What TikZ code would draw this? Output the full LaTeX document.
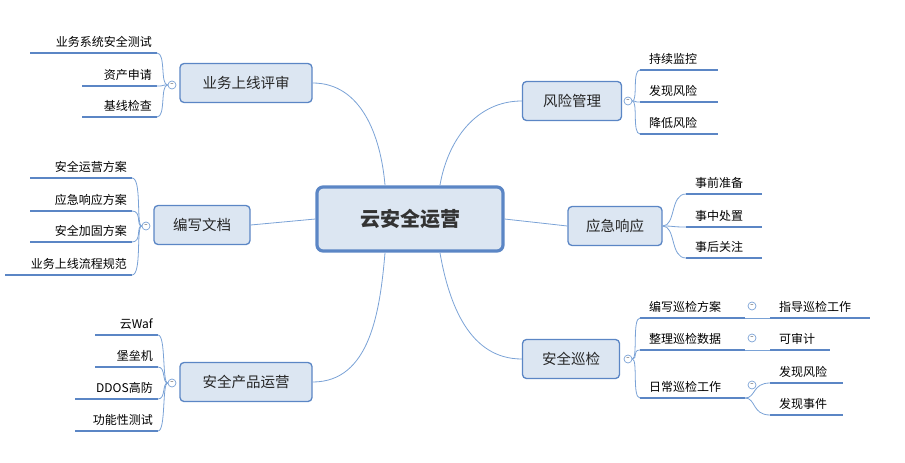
\documentclass[tikz,border=0pt]{standalone}
\usepackage{fontspec}
\setmainfont{Noto Sans CJK SC}
\definecolor{bl}{HTML}{5B86C5}
\definecolor{cn}{HTML}{7AA2D6}
\definecolor{fl}{HTML}{DCE6F2}
\tikzset{
 mainbox/.style={draw=bl,line width=3.2pt,fill=fl,rounded corners=6pt,minimum width=186pt,minimum height=64pt,font=\fontsize{20}{22}\selectfont\bfseries,text=black!80},
 branch/.style={draw=bl,line width=1.3pt,fill=fl,rounded corners=4pt,minimum height=39pt,inner xsep=6pt,font=\fontsize{14.5}{16}\selectfont,text=black!85},
 uline/.style={draw=bl,line width=2.4pt},
 conn/.style={draw=cn,line width=0.8pt},
 circ/.style={circle,draw=cn,line width=0.7pt,fill=white,inner sep=0pt,minimum size=8pt,font=\fontsize{6}{6}\selectfont},
 lt/.style={font=\fontsize{12}{14}\selectfont,inner sep=1pt}
}
\newcommand\leafL[5]{\coordinate (#1a) at (#2,#4);\coordinate (#1) at (#3,#4);
 \draw[uline] (#1a) -- (#1);
 \node[lt,anchor=south east] (#1t) at (#3-4,#4-4) {#5};}
\newcommand\leafR[5]{\coordinate (#1) at (#2,#4);\coordinate (#1b) at (#3,#4);
 \draw[uline] (#1) -- (#1b);
 \node[lt,anchor=south west] (#1t) at (#2+8,#4-4) {#5};}
\begin{document}
\begin{tikzpicture}[x=1pt,y=-1pt]
\useasboundingbox (0,0) rectangle (905,463);
\node[mainbox] (m) at (410,219) {云安全运营};
\node[branch,minimum width=132pt] (b1) at (246,83) {业务上线评审};
\node[branch,minimum width=96pt] (b2) at (202,225) {编写文档};
\node[branch,minimum width=132pt] (b3) at (246,382) {安全产品运营};
\node[branch,minimum width=99pt] (b4) at (572,101) {风险管理};
\node[branch,minimum width=94pt] (b5) at (615,226) {应急响应};
\node[branch,minimum width=97pt] (b6) at (571,359) {安全巡检};
\draw[conn] (385,185) to[out=95,in=0] (b1.east);
\draw[conn] (m.west) -- (b2.east);
\draw[conn] (385,253) to[out=-95,in=0] (b3.east);
\draw[conn] (440,185) to[out=80,in=180] (b4.west);
\draw[conn] (m.east) -- (b5.west);
\draw[conn] (440,253) to[out=-80,in=180] (b6.west);
\leafL{l11}{30}{157}{53}{业务系统安全测试}
\leafL{l12}{82}{157}{86}{资产申请}
\leafL{l13}{82}{157}{117}{基线检查}
\leafL{l21}{30}{132}{178}{安全运营方案}
\leafL{l22}{30}{132}{211}{应急响应方案}
\leafL{l23}{30}{132}{242}{安全加固方案}
\leafL{l24}{5}{132}{275}{业务上线流程规范}
\leafL{l31}{95}{158}{335}{云Waf}
\leafL{l32}{95}{158}{367}{堡垒机}
\leafL{l33}{75}{158}{399}{DDOS高防}
\leafL{l34}{75}{158}{431}{功能性测试}
\leafR{l41}{640}{718}{70}{持续监控}
\leafR{l42}{640}{718}{102}{发现风险}
\leafR{l43}{640}{718}{134}{降低风险}
\leafR{l51}{686}{762}{194}{事前准备}
\leafR{l52}{686}{762}{227}{事中处置}
\leafR{l53}{686}{762}{258}{事后关注}
\leafR{l61}{640}{745}{318}{编写巡检方案}
\leafR{l62}{640}{745}{350}{整理巡检数据}
\leafR{l63}{640}{745}{398}{日常巡检工作}
\leafR{l71}{770}{870}{318}{指导巡检工作}
\leafR{l72}{770}{830}{350}{可审计}
\leafR{l73}{770}{843}{383}{发现风险}
\leafR{l74}{770}{843}{415}{发现事件}
\draw[conn] (l61b) -- (l71);
\draw[conn] (l62b) -- (l72);
\draw[conn] (l63b) .. controls (756,398) and (752,383) .. (l73);
\draw[conn] (l63b) .. controls (756,398) and (752,415) .. (l74);
\node[circ] (c1) at (172,85) {--};
\node[circ] (c2) at (146,226) {--};
\node[circ] (c3) at (172,383) {--};
\node[circ] (c4) at (628,101) {--};
\node[circ] (c6) at (628,359) {--};
\foreach \t in {l11,l12,l13}{\draw[conn] (c1.west) .. controls (160,85) and ([xshift=9pt]\t) .. (\t);}
\foreach \t in {l21,l22,l23,l24}{\draw[conn] (c2.west) .. controls (136,226) and ([xshift=10pt]\t) .. (\t);}
\foreach \t in {l31,l32,l33,l34}{\draw[conn] (c3.west) .. controls (162,383) and ([xshift=8pt]\t) .. (\t);}
\foreach \t in {l41,l42,l43}{\draw[conn] (c4.east) .. controls (638,101) and ([xshift=-8pt]\t) .. (\t);}
\foreach \t in {l51,l52,l53}{\draw[conn] (b5.east) .. controls (676,226) and ([xshift=-16pt]\t) .. (\t);}
\foreach \t in {l61,l62,l63}{\draw[conn] (c6.east) .. controls (638,359) and ([xshift=-8pt]\t) .. (\t);}
\node[circ,fill=white] (c61) at (752,306) {--};
\node[circ] (c62) at (752,338) {--};
\node[circ] (c63) at (752,385) {--};
\end{tikzpicture}
\end{document}
